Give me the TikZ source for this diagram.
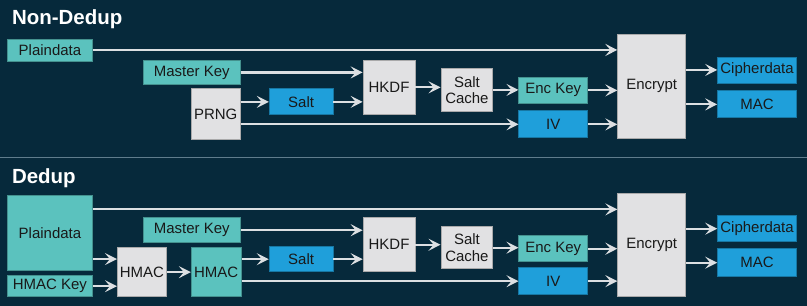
\documentclass[tikz,border=0pt]{standalone}
\usepackage{fontspec}
\setsansfont{Liberation Sans}
\usepackage{xcolor}
\usetikzlibrary{arrows.meta, positioning, calc}

\definecolor{bgnavy}{HTML}{06293B}
\definecolor{keyteal}{HTML}{5BC2BE}
\definecolor{valblue}{HTML}{1F9FDA}
\definecolor{opgray}{HTML}{E1E1E3}
\definecolor{flowgray}{HTML}{DCDFE2}
\definecolor{sepline}{HTML}{5F7C8C}

\begin{document}
\begin{tikzpicture}[
  x=1pt, y=-1pt,
  box/.style={rectangle, draw, line width=0.8pt, inner sep=0pt, align=center, text=black!90,
    font=\fontsize{15}{16.5}\selectfont\sffamily},
  keybox/.style={box, fill=keyteal, draw=keyteal!75!black},
  valbox/.style={box, fill=valblue, draw=valblue!75!black},
  opbox/.style={box, fill=opgray, draw=opgray!75!black},
  title/.style={anchor=base west, text=white, font=\fontsize{20.5}{22}\selectfont\sffamily\bfseries},
  flow/.style={draw=flowgray, line width=2.2pt, -{Stealth[length=12pt, width=12pt, inset=5pt]}}
]
\fill[bgnavy] (0,0) rectangle (807,306);
\draw[sepline, line width=1pt] (0,157.5) -- (807,157.5);

% Non-Dedup
\node[title] (title_nd) at (8,25) {Non-Dedup};
\node[keybox, minimum width=85pt, minimum height=22pt] (plain_nd) at (49.5,50) {Plaindata};
\node[keybox, minimum width=97pt, minimum height=25pt] (mkey_nd) at (191.5,72.5) {Master Key};
\node[opbox, minimum width=49pt, minimum height=51pt] (prng_nd) at (215.5,114.5) {PRNG};
\node[valbox, minimum width=64pt, minimum height=26pt] (salt_nd) at (301,102) {Salt};
\node[opbox, minimum width=52pt, minimum height=55pt] (hkdf_nd) at (389,87.5) {HKDF};
\node[opbox, minimum width=52pt, minimum height=44pt] (cache_nd) at (467,90) {Salt\\Cache};
\node[keybox, minimum width=69pt, minimum height=27pt] (enckey_nd) at (553.5,90.5) {Enc Key};
\node[valbox, minimum width=69pt, minimum height=27pt] (iv_nd) at (553.5,124.5) {IV};
\node[opbox, minimum width=68pt, minimum height=105pt] (encrypt_nd) at (652,86.5) {Encrypt};
\node[valbox, minimum width=79pt, minimum height=26pt] (cipher_nd) at (757.5,70) {Cipherdata};
\node[valbox, minimum width=79pt, minimum height=27pt] (mac_nd) at (757.5,104.5) {MAC};

\draw[flow] (plain_nd.east) -- (plain_nd.east -| encrypt_nd.west);
\draw[flow] (mkey_nd.east) -- (mkey_nd.east -| hkdf_nd.west);
\draw[flow] (salt_nd.west -| prng_nd.east) -- (salt_nd.west);
\draw[flow] (salt_nd.east) -- (salt_nd.east -| hkdf_nd.west);
\draw[flow] (iv_nd.west -| prng_nd.east) -- (iv_nd.west);
\draw[flow] (hkdf_nd.east) -- (hkdf_nd.east -| cache_nd.west);
\draw[flow] (cache_nd.east) -- (cache_nd.east -| enckey_nd.west);
\draw[flow] (enckey_nd.east) -- (enckey_nd.east -| encrypt_nd.west);
\draw[flow] (iv_nd.east) -- (iv_nd.east -| encrypt_nd.west);
\draw[flow] (cipher_nd.west -| encrypt_nd.east) -- (cipher_nd.west);
\draw[flow] (mac_nd.west -| encrypt_nd.east) -- (mac_nd.west);

% Dedup
\node[title] (title_d) at (8,184) {Dedup};
\node[keybox, minimum width=85pt, minimum height=75pt] (plain_d) at (49.5,233.5) {Plaindata};
\node[keybox, minimum width=85pt, minimum height=21pt] (hmackey_d) at (49.5,286.5) {HMAC Key};
\node[opbox, minimum width=49pt, minimum height=49pt] (hmac1_d) at (141.5,272.5) {HMAC};
\node[keybox, minimum width=50pt, minimum height=49pt] (hmac2_d) at (216,272.5) {HMAC};
\node[keybox, minimum width=97pt, minimum height=25pt] (mkey_d) at (191.5,230.5) {Master Key};
\node[valbox, minimum width=64pt, minimum height=25pt] (salt_d) at (301,259.5) {Salt};
\node[opbox, minimum width=52pt, minimum height=54pt] (hkdf_d) at (389,245) {HKDF};
\node[opbox, minimum width=52pt, minimum height=42pt] (cache_d) at (467,248) {Salt\\Cache};
\node[keybox, minimum width=69pt, minimum height=26pt] (enckey_d) at (553.5,249) {Enc Key};
\node[valbox, minimum width=69pt, minimum height=27pt] (iv_d) at (553.5,281.5) {IV};
\node[opbox, minimum width=68pt, minimum height=103pt] (encrypt_d) at (652,245.5) {Encrypt};
\node[valbox, minimum width=79pt, minimum height=26pt] (cipher_d) at (757.5,229) {Cipherdata};
\node[valbox, minimum width=79pt, minimum height=28pt] (mac_d) at (757.5,263) {MAC};

\draw[flow] ([yshift=-14pt]plain_d.north east) -- ([yshift=-14pt]plain_d.north east -| encrypt_d.west);
\draw[flow] ([yshift=12pt]plain_d.south east) -- ([yshift=12pt]plain_d.south east -| hmac1_d.west);
\draw[flow] (hmackey_d.east) -- (hmackey_d.east -| hmac1_d.west);
\draw[flow] (hmac1_d.east) -- (hmac2_d.west);
\draw[flow] (salt_d.west -| hmac2_d.east) -- (salt_d.west);
\draw[flow] (iv_d.west -| hmac2_d.east) -- (iv_d.west);
\draw[flow] (mkey_d.east) -- (mkey_d.east -| hkdf_d.west);
\draw[flow] (salt_d.east) -- (salt_d.east -| hkdf_d.west);
\draw[flow] (hkdf_d.east) -- (hkdf_d.east -| cache_d.west);
\draw[flow] (cache_d.east) -- (cache_d.east -| enckey_d.west);
\draw[flow] (enckey_d.east) -- (enckey_d.east -| encrypt_d.west);
\draw[flow] (iv_d.east) -- (iv_d.east -| encrypt_d.west);
\draw[flow] (cipher_d.west -| encrypt_d.east) -- (cipher_d.west);
\draw[flow] (mac_d.west -| encrypt_d.east) -- (mac_d.west);

\end{tikzpicture}
\end{document}
